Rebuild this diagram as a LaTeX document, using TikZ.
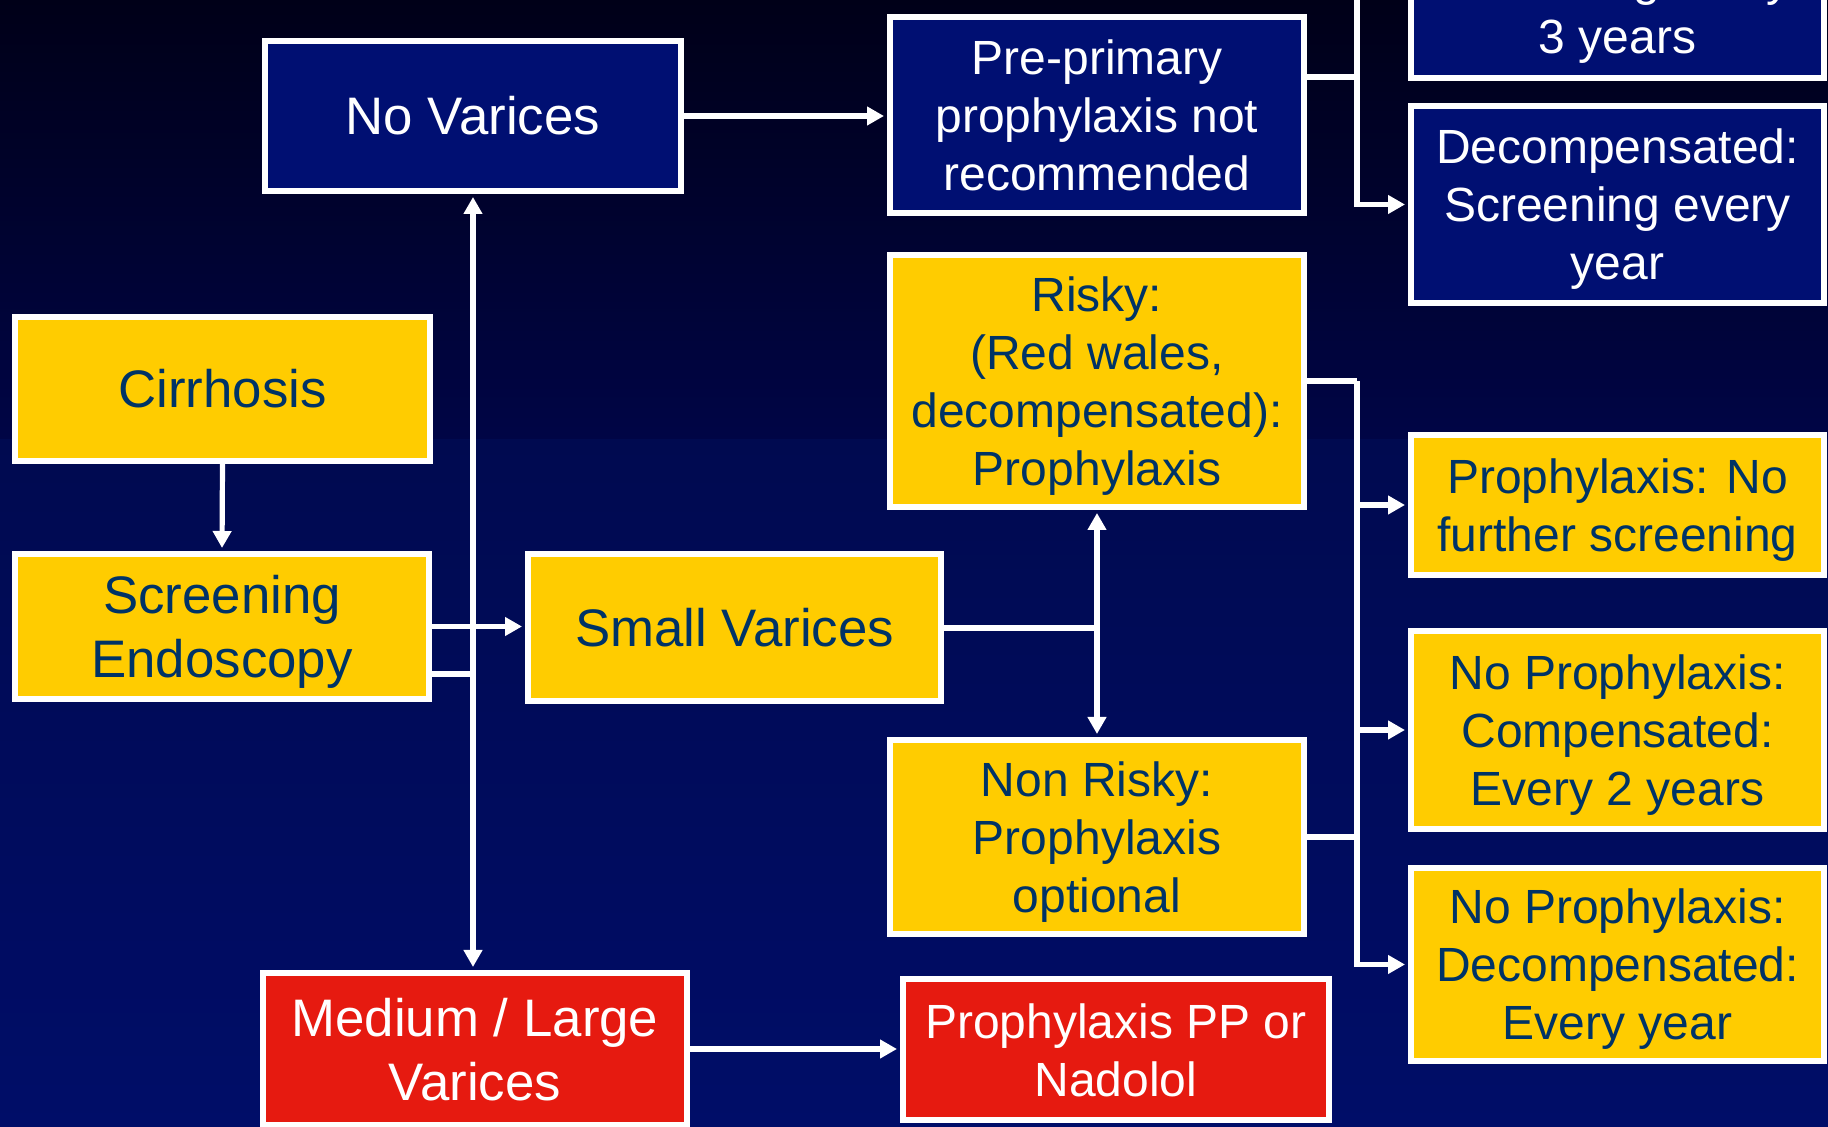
\documentclass[tikz,border=0pt]{standalone}
\usepackage{fontspec}
\setmainfont{Liberation Sans}
\usetikzlibrary{arrows.meta}
\definecolor{bgtop}{RGB}{0,0,24}
\definecolor{bgmid}{RGB}{0,5,70}
\definecolor{bgmid2}{RGB}{0,10,80}
\definecolor{bgbot}{RGB}{0,13,104}
\definecolor{boxblue}{RGB}{0,15,114}
\definecolor{boxyellow}{RGB}{255,204,0}
\definecolor{boxred}{RGB}{230,26,16}
\definecolor{ytext}{RGB}{0,51,102}
% last line without depth, so every text is centred from cap top to last baseline
\newcommand\lastln[1]{\raisebox{0pt}[\height][0pt]{#1}}
\tikzset{
  box/.style={draw=white, line width=3pt, inner sep=0pt, align=center},
  bluebox/.style={box, fill=boxblue, text=white},
  yellowbox/.style={box, fill=boxyellow, text=ytext},
  redbox/.style={box, fill=boxred, text=white},
  bigtext/.style={font=\fontsize{26.4}{32}\selectfont},
  smalltext/.style={font=\fontsize{24}{29}\selectfont},
  conn/.style={draw=white, line width=2.6pt},
  arr/.style={conn, -{Triangle[length=8.5pt,width=9pt]}, shorten >=1.5pt},
  darr/.style={conn, {Triangle[length=8.5pt,width=9pt]}-{Triangle[length=8.5pt,width=9pt]}, shorten >=1.5pt, shorten <=1.5pt}
}
\begin{document}
\begin{tikzpicture}[x={(0.5pt,0)}, y={(0,-0.5pt)}]
\useasboundingbox (0,0) rectangle (1828,1127);
\begin{scope}
\clip (0,0) rectangle (1828,1127);
% background
\shade[top color=bgtop, bottom color=bgmid] (0,0) rectangle (1828,441);
\shade[top color=bgmid2, bottom color=bgbot] (0,440) rectangle (1828,1127);

% boxes
\node[bluebox, bigtext, minimum width=208pt, minimum height=75pt] (nov) at (473,116) {No Varices};
\node[bluebox, smalltext, minimum width=207pt, minimum height=98pt] (prep) at (1097,115.5) {Pre-primary\\prophylaxis not\\\lastln{recommended}};
\node[bluebox, minimum width=206.5pt, minimum height=98pt] (tr) at (1617.5,-20) {};
\node[smalltext, text=white, align=center, inner sep=0pt, anchor=south] (trtext) at (1617.5,54) {Screening every\\\lastln{3 years}};
\node[bluebox, smalltext, minimum width=206.5pt, minimum height=98.5pt] (decomp) at (1617.5,204.5) {Decompensated:\\Screening every\\\lastln{year}};

\node[yellowbox, bigtext, minimum width=207.5pt, minimum height=72pt] (cirr) at (222.5,389) {Cirrhosis};
\node[yellowbox, bigtext, minimum width=207pt, minimum height=72.5pt] (screen) at (222,626.5) {Screening\\\lastln{Endoscopy}};
\node[yellowbox, bigtext, minimum width=206.5pt, minimum height=73.5pt] (smallv) at (734.5,628) {Small Varices};
\node[yellowbox, smalltext, minimum width=207pt, minimum height=126pt] (risky) at (1097,381) {Risky:\\(Red wales,\\decompensated):\\\lastln{Prophylaxis}};
\node[yellowbox, smalltext, minimum width=207pt, minimum height=97pt] (nonr) at (1097,837) {Non Risky:\\Prophylaxis\\\lastln{optional}};
\node[yellowbox, smalltext, minimum width=206.5pt, minimum height=70pt] (pns) at (1617.5,505) {Prophylaxis: No\\\lastln{further screening}};
\node[yellowbox, smalltext, minimum width=206.5pt, minimum height=99pt] (npc) at (1617.5,730) {No Prophylaxis:\\Compensated:\\\lastln{Every 2 years}};
\node[yellowbox, smalltext, minimum width=206.5pt, minimum height=96.5pt] (npd) at (1617.5,964.5) {No Prophylaxis:\\Decompensated:\\\lastln{Every year}};

\node[redbox, bigtext, minimum width=212pt, minimum height=76pt] (medl) at (475,1049) {Medium / Large\\\lastln{Varices}};
\node[redbox, smalltext, minimum width=213pt, minimum height=70.5pt] (ppn) at (1116,1050) {Prophylaxis PP or\\\lastln{Nadolol}};

% connectors
\coordinate (j1) at (1357,77);
\coordinate (jtop) at (1357,-2);
\coordinate (rj) at (1357,381);
\coordinate (sj) at (473,674);

\draw[arr] (nov.east) -- (nov.east -| prep.west);
\draw[conn] (prep.east |- j1) -- (j1) -- (jtop);
\draw[arr] (j1) |- (decomp.west);

\draw[arr] (cirr.south) -- (screen.north);
\draw[arr] (screen.east) -- (screen.east -| smallv.west);
\draw[darr] (nov.south) -- (nov.south |- medl.north);
\draw[conn] (screen.east |- sj) -- (sj);

\draw[conn] (smallv.east) -- (smallv.east -| risky.south);
\draw[darr] (risky.south) -- (nonr.north);

\draw[conn] (risky.east) -- (rj);
\draw[arr] (rj) |- (npd.west);
\draw[arr] (rj |- pns.west) -- (pns.west);
\draw[arr] (rj |- npc.west) -- (npc.west);
\draw[conn] (nonr.east) -- (nonr.east -| rj);

\draw[arr] (medl.east) -- (medl.east -| ppn.west);
\end{scope}
\end{tikzpicture}
\end{document}
